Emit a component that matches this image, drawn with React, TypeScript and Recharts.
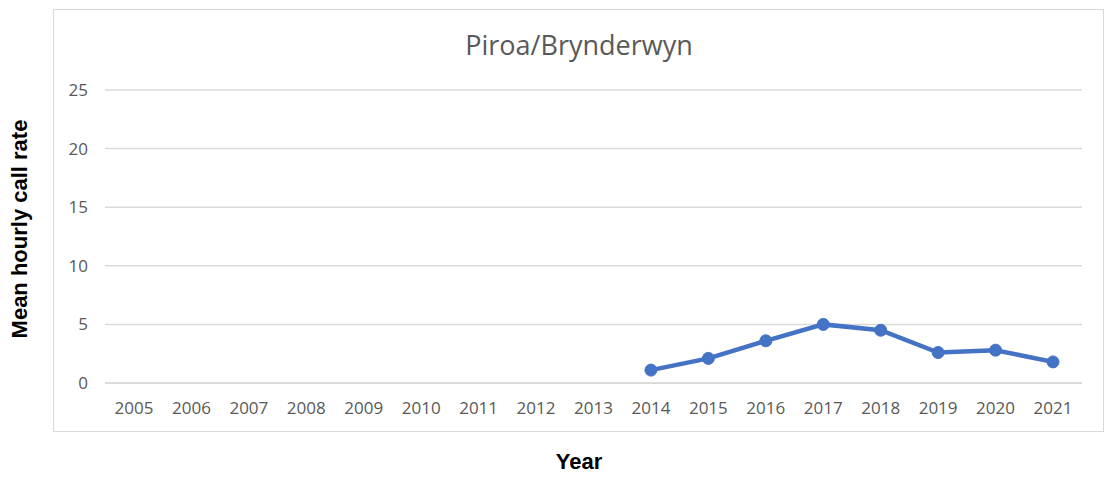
import React from "react";
import { LineChart, Line, XAxis, YAxis, CartesianGrid } from "recharts";

const years = [
  "2005", "2006", "2007", "2008", "2009", "2010", "2011", "2012", "2013",
  "2014", "2015", "2016", "2017", "2018", "2019", "2020", "2021",
];
const callRates: (number | null)[] = [
  null, null, null, null, null, null, null, null, null,
  1.1, 2.1, 3.6, 5.0, 4.5, 2.6, 2.8, 1.8,
];
const yTicks = [0, 5, 10, 15, 20, 25];

const data = years.map((year, i) => ({ year, rate: callRates[i] }));

const W = 1106;
const H = 480;

export default function App() {
  return (
    <div style={{ position: "absolute", left: 0, top: 0, width: W, height: H, background: "#fff" }}>
      <div
        style={{
          position: "absolute",
          left: 53,
          top: 9,
          width: 1051,
          height: 423,
          border: "1.5px solid #d9d9d9",
          boxSizing: "border-box",
        }}
      />
      <div
        style={{
          position: "absolute",
          left: 53,
          width: 1052,
          top: 26,
          textAlign: "center",
          fontFamily: "'Open Sans', sans-serif",
          fontSize: 27,
          color: "#595959",
        }}
      >
        Piroa/Brynderwyn
      </div>
      <div
        style={{
          position: "absolute",
          left: 53,
          width: 1052,
          top: 449,
          textAlign: "center",
          fontFamily: "'Liberation Sans', Arial, sans-serif",
          fontWeight: "bold",
          fontSize: 22,
          color: "#000",
        }}
      >
        Year
      </div>
      <div
        style={{
          position: "absolute",
          left: 20,
          top: 229,
          transform: "translate(-50%, -50%) rotate(-90deg)",
          whiteSpace: "nowrap",
          fontFamily: "'Liberation Sans', Arial, sans-serif",
          fontWeight: "bold",
          fontSize: 22,
          color: "#000",
        }}
      >
        Mean hourly call rate
      </div>
      <div style={{ position: "absolute", left: 0, top: 0 }}>
        <LineChart
          width={W}
          height={H}
          data={data}
          margin={{ top: 90, right: 24, left: 53, bottom: 67 }}
        >
          <CartesianGrid vertical={false} stroke="#d9d9d9" strokeWidth={1.5} />
          <XAxis
            dataKey="year"
            axisLine={{ stroke: "#d9d9d9", strokeWidth: 1.5 }}
            tickLine={false}
            height={30}
            interval={0}
            padding={{ left: 29, right: 29 }}
            tick={{ fill: "#595959", fontSize: 17, fontFamily: "'Open Sans', sans-serif", dy: 11 }}
          />
          <YAxis
            width={52}
            domain={[0, 25]}
            ticks={yTicks}
            axisLine={false}
            tickLine={false}
            tick={{ fill: "#595959", fontSize: 17, fontFamily: "'Open Sans', sans-serif", dx: -9 }}
          />
          <Line
            type="linear"
            dataKey="rate"
            stroke="#4472C4"
            strokeWidth={4.5}
            dot={{ r: 6, fill: "#4472C4", stroke: "#4472C4", strokeWidth: 1 }}
            isAnimationActive={false}
          />
        </LineChart>
      </div>
    </div>
  );
}
